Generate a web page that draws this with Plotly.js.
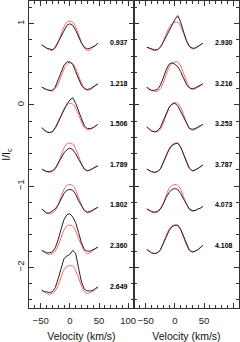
<!DOCTYPE html>
<html>
<head>
<meta charset="utf-8">
<script src="https://cdn.plot.ly/plotly-3.0.1.min.js"></script>
<style>html,body{margin:0;padding:0;background:#fff;}#chart{width:240px;height:342px;}</style>
</head>
<body>
<div id="chart"></div>
<script>
// Velocity grid (km/s)
const velocity = [-48,-44,-40,-35,-30,-25,-20,-15,-10,-5,0,5,10,15,20,25,30,35,40,44,48];

// Phase labels
const leftPhases = ["0.937","1.218","1.506","1.789","1.802","2.360","2.649"];
const rightPhases = ["2.930","3.216","3.253","3.787","4.073","4.108"];

// Vertical offsets applied to each stacked profile
const offsets = [0, -0.5, -1.0, -1.5, -2.0, -2.5, -3.0];

// Observed profiles (black), left column
const obsL1 = [0.74,0.72,0.70,0.69,0.68,0.71,0.78,0.86,0.93,0.98,1.00,0.98,0.92,0.84,0.76,0.71,0.69,0.70,0.72,0.73,0.76];
const obsL2 = [0.72,0.70,0.69,0.68,0.68,0.72,0.80,0.90,0.99,1.03,1.03,1.00,0.91,0.82,0.74,0.70,0.69,0.70,0.72,0.74,0.76];
const obsL3 = [0.72,0.69,0.67,0.66,0.67,0.72,0.79,0.87,0.95,1.01,1.06,1.09,1.02,0.93,0.82,0.74,0.71,0.71,0.72,0.74,0.76];
const obsL4 = [0.71,0.69,0.68,0.68,0.69,0.72,0.78,0.85,0.91,0.95,0.97,0.95,0.90,0.83,0.76,0.71,0.69,0.70,0.72,0.74,0.75];
const obsL5 = [0.72,0.69,0.67,0.67,0.69,0.72,0.77,0.84,0.91,0.95,0.96,0.95,0.90,0.82,0.75,0.70,0.68,0.69,0.71,0.73,0.74];
const obsL6 = [0.71,0.69,0.68,0.68,0.69,0.74,0.84,0.97,1.09,1.15,1.16,1.12,1.05,0.93,0.80,0.72,0.70,0.70,0.72,0.74,0.75];
const obsL7 = [0.72,0.70,0.70,0.69,0.70,0.75,0.86,1.00,1.11,1.14,1.16,1.21,1.17,0.99,0.82,0.73,0.71,0.71,0.72,0.74,0.76];

// Model profiles (red), left column
const modL1 = [0.74,0.72,0.70,0.68,0.67,0.70,0.77,0.87,0.96,1.02,1.03,1.02,0.96,0.87,0.77,0.70,0.67,0.68,0.71,0.74,0.76];
const modL2 = [0.72,0.70,0.69,0.68,0.67,0.70,0.76,0.85,0.94,1.00,1.02,1.01,0.95,0.86,0.77,0.71,0.68,0.69,0.71,0.74,0.76];
const modL3 = [0.72,0.69,0.67,0.66,0.67,0.71,0.78,0.87,0.95,1.00,1.02,1.01,0.96,0.88,0.79,0.72,0.69,0.70,0.72,0.74,0.76];
const modL4 = [0.71,0.69,0.68,0.67,0.68,0.71,0.78,0.88,0.97,1.02,1.03,1.02,0.96,0.87,0.78,0.71,0.69,0.70,0.72,0.74,0.75];
const modL5 = [0.72,0.69,0.67,0.66,0.67,0.70,0.77,0.87,0.96,1.01,1.02,1.01,0.95,0.86,0.77,0.70,0.67,0.68,0.70,0.72,0.74];
const modL6 = [0.71,0.69,0.67,0.66,0.67,0.70,0.77,0.87,0.96,1.01,1.02,1.01,0.95,0.86,0.77,0.70,0.67,0.68,0.71,0.73,0.75];
const modL7 = [0.72,0.70,0.68,0.67,0.68,0.71,0.78,0.88,0.97,1.01,1.02,1.02,0.96,0.87,0.77,0.70,0.68,0.69,0.71,0.73,0.75];

// Observed profiles (black), right column
const obsR1 = [0.71,0.70,0.69,0.68,0.68,0.71,0.77,0.84,0.92,0.99,1.05,1.10,1.02,0.90,0.79,0.72,0.70,0.70,0.72,0.74,0.76];
const obsR2 = [0.72,0.69,0.68,0.68,0.69,0.74,0.83,0.93,1.00,1.02,1.00,0.97,0.91,0.83,0.75,0.71,0.70,0.71,0.73,0.74,0.76];
const obsR3 = [0.73,0.70,0.68,0.67,0.68,0.72,0.80,0.89,0.97,1.01,1.02,0.99,0.92,0.84,0.76,0.71,0.70,0.71,0.73,0.75,0.76];
const obsR4 = [0.71,0.69,0.68,0.67,0.68,0.71,0.78,0.87,0.95,1.00,1.02,1.03,0.98,0.89,0.79,0.72,0.69,0.70,0.72,0.74,0.76];
const obsR5 = [0.72,0.70,0.69,0.68,0.69,0.72,0.78,0.86,0.92,0.96,0.97,0.96,0.91,0.84,0.77,0.72,0.70,0.70,0.72,0.73,0.75];
const obsR6 = [0.72,0.70,0.68,0.67,0.68,0.71,0.78,0.87,0.95,1.00,1.02,1.02,0.97,0.88,0.78,0.71,0.69,0.70,0.72,0.75,0.77];

// Model profiles (red), right column
const modR1 = [0.71,0.70,0.68,0.67,0.68,0.71,0.78,0.87,0.95,1.00,1.02,1.02,0.97,0.88,0.79,0.72,0.69,0.70,0.72,0.74,0.76];
const modR2 = [0.72,0.70,0.68,0.67,0.67,0.70,0.77,0.87,0.96,1.01,1.03,1.03,0.98,0.89,0.79,0.72,0.69,0.70,0.72,0.74,0.76];
const modR3 = [0.73,0.70,0.68,0.67,0.67,0.70,0.77,0.87,0.96,1.01,1.03,1.02,0.97,0.88,0.78,0.71,0.69,0.70,0.72,0.74,0.76];
const modR4 = [0.71,0.69,0.68,0.67,0.68,0.71,0.78,0.87,0.96,1.01,1.03,1.03,0.98,0.89,0.79,0.72,0.69,0.70,0.72,0.74,0.76];
const modR5 = [0.72,0.70,0.68,0.67,0.68,0.71,0.78,0.88,0.97,1.01,1.02,1.01,0.96,0.87,0.78,0.71,0.69,0.70,0.72,0.73,0.75];
const modR6 = [0.72,0.70,0.68,0.67,0.68,0.72,0.80,0.89,0.97,1.01,1.02,1.01,0.96,0.87,0.77,0.71,0.69,0.70,0.72,0.75,0.77];

const obsLeft = [obsL1,obsL2,obsL3,obsL4,obsL5,obsL6,obsL7];
const modLeft = [modL1,modL2,modL3,modL4,modL5,modL6,modL7];
const obsRight = [obsR1,obsR2,obsR3,obsR4,obsR5,obsR6];
const modRight = [modR1,modR2,modR3,modR4,modR5,modR6];

const labelVel = 65;
const labelLevel = 0.77;

const BLACK = '#222222';
const RED = '#ff6464';

const traces = [];
const annotations = [];

function addColumn(obs, mod, phases, xa, ya) {
  obs.forEach((o, k) => {
    const off = offsets[k];
    traces.push({x: velocity, y: mod[k].map(v => v + off), xaxis: xa, yaxis: ya,
      mode: 'lines', line: {color: RED, width: 1, shape: 'spline'}, hoverinfo: 'skip'});
    traces.push({x: velocity, y: o.map(v => v + off), xaxis: xa, yaxis: ya,
      mode: 'lines', line: {color: BLACK, width: 1}, hoverinfo: 'skip'});
    annotations.push({x: labelVel, y: labelLevel + off, xref: xa, yref: ya,
      text: '<b>' + phases[k] + '</b>', showarrow: false, xanchor: 'left', yanchor: 'middle',
      font: {family: 'Liberation Sans, Arial, sans-serif', size: 7, color: '#000'}});
  });
}
addColumn(obsLeft, modLeft, leftPhases, 'x', 'y');
addColumn(obsRight, modRight, rightPhases, 'x2', 'y2');

const fontFam = 'Liberation Sans, Arial, Helvetica, sans-serif';
const axisCommon = {
  showline: true, linecolor: '#333', linewidth: 1, mirror: 'allticks',
  ticks: 'inside', ticklen: 5, tickwidth: 1, tickcolor: '#333',
  showgrid: false, zeroline: false,
  tickfont: {family: fontFam, size: 9.5, color: '#222'}
};

const xCommon = Object.assign({}, axisCommon, {
  range: [-70, 110], tickvals: [-50, 0, 50, 100], ticklabelstandoff: 4,
  minor: {dtick: 10, tick0: 0, ticks: 'inside', ticklen: 3, tickcolor: '#333', showgrid: false},
  title: {text: 'Velocity (km/s)', font: {family: fontFam, size: 10.5, color: '#111'}, standoff: 13}
});
const yCommon = Object.assign({}, axisCommon, {
  range: [-2.5, 1.28], tick0: 0, dtick: 1, tickangle: -90,
  minor: {dtick: 0.2, tick0: 0, ticks: 'inside', ticklen: 3, tickcolor: '#333', showgrid: false}
});

const yDomain = [34/342, 341/342];
const layout = {
  width: 240, height: 342,
  margin: {l: 0, r: 0, t: 0, b: 0},
  paper_bgcolor: '#fff', plot_bgcolor: '#fff',
  showlegend: false,
  xaxis: Object.assign({}, xCommon, {domain: [29/240, 134/240], anchor: 'y'}),
  yaxis: Object.assign({}, yCommon, {domain: yDomain, anchor: 'x',
    title: {text: 'I/I<sub>c</sub>', font: {family: fontFam, size: 10.5, color: '#111'}, standoff: 4}}),
  xaxis2: Object.assign({}, xCommon, {domain: [134/240, 239/240], anchor: 'y2'}),
  yaxis2: Object.assign({}, yCommon, {domain: yDomain, anchor: 'x2', showticklabels: false}),
  annotations: annotations
};

Plotly.newPlot('chart', traces, layout, {staticPlot: true, displayModeBar: false});
</script>
</body>
</html>
